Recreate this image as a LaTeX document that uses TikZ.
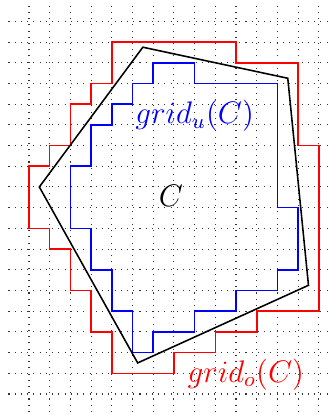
\documentclass[tikz,border=0pt]{standalone}
\usepackage{tikz}
\usetikzlibrary{positioning}

\begin{document}
\begin{tikzpicture}[x=0.28cm, y=0.28cm,
        raster/.style={dotted, black!80, line width=0.4pt},
        outer/.style={red, line width=0.6pt},
        inner/.style={blue, line width=0.6pt},
        polyline/.style={black, line width=0.6pt},
        lbl/.style={font=\large, inner sep=0pt}
      ]
        \useasboundingbox (-0.4,-0.87) rectangle (15.49,19.03);
        \draw[raster, step=0.28cm] (0.01,-0.87) grid (15.49,18.95);
        \draw[outer] (5,17) -- (11,17) -- (11,16) -- (14,16) -- (14,12) -- (15,12)
          -- (15,4) -- (12,4) -- (12,3) -- (10,3) -- (10,2) -- (8,2) -- (8,1)
          -- (5,1) -- (5,3) -- (4,3) -- (4,5) -- (3,5) -- (3,7) -- (2,7) -- (2,8)
          -- (1,8) -- (1,11) -- (2,11) -- (2,12) -- (3,12) -- (3,14) -- (4,14)
          -- (4,15) -- (5,15) -- cycle;
        \draw[inner] (7,16) -- (9,16) -- (9,15) -- (13,15) -- (13,9) -- (14,9)
          -- (14,6) -- (13,6) -- (13,5) -- (11,5) -- (11,4) -- (9,4) -- (9,3)
          -- (7,3) -- (7,2) -- (6,2) -- (6,4) -- (5,4) -- (5,6) -- (4,6) -- (4,8)
          -- (3,8) -- (3,11) -- (4,11) -- (4,13) -- (5,13) -- (5,14) -- (6,14)
          -- (6,15) -- (7,15) -- cycle;
        \draw[polyline] (6.5,16.75) -- (13.5,15.25) -- (14.5,5.25) -- (6.25,1.5)
          -- (1.5,10) -- cycle;
        \node[lbl, blue] (gridu) at (9,13.45) {$grid_u(C)$};
        \node[lbl] (cname) at (7.85,9.58) {$C$};
        \node[lbl, red] (grido) at (11.47,0.95) {$grid_o(C)$};
\end{tikzpicture}
\end{document}
